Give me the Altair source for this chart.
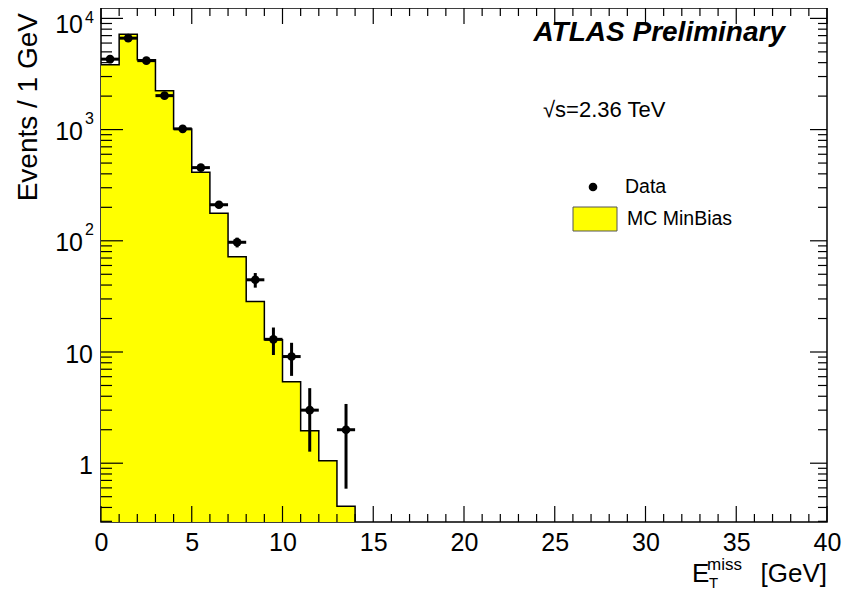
import altair as alt
import pandas as pd

# ---- data ----
bin_lo = list(range(0, 14))                     # 1 GeV bins 0..14
mc_vals = [3820, 7210, 4240, 2240, 1010, 414, 177, 72, 28.4, 12.9, 5.4, 1.96, 1.05, 0.41]

data_x = [0.5, 1.5, 2.5, 3.5, 4.5, 5.5, 6.5, 7.5, 8.5, 9.5, 10.5, 11.5, 13.5]
data_y = [4300, 6640, 4170, 2020, 1015, 455, 211, 97, 44.6, 13, 9.1, 3.0, 2.0]
data_err = [66, 81, 65, 45, 32, 21, 14.5, 9.8, 6.7, 3.6, 3.0, 1.73, 1.41]
data_xerr = [0.5] * 13

x_major = [0, 5, 10, 15, 20, 25, 30, 35, 40]
x_minor = [v for v in range(0, 41) if v % 5 != 0]
y_major = [1, 10, 100, 1000, 10000]
y_minor = [m * 10 ** k for k in range(-1, 4) for m in range(2, 10) if m * 10 ** k >= 0.3]
ylab_plain_v = [1, 10]
ylab_plain_t = ["1", "10"]
ylab_pow_v = [100, 1000]
ylab_pow_exp = ["2", "3"]
ylab_top_v = [10000]
ylab_top_exp = ["4"]

W, H = 726, 514
YMIN, YMAX = 0.296, 12400
FONT = "Liberation Sans"

xs = alt.Scale(domain=[0, 40], nice=False, zero=False)
ys = alt.Scale(type="log", domain=[YMIN, YMAX], nice=False)
x_axis = alt.Axis(values=x_major, labelFontSize=25, labelFont=FONT, labelColor="black",
                  ticks=False, tickSize=0, domain=False, grid=False, title=None,
                  labelPadding=8, labelFlush=False, labelOverlap=False)

# MC histogram (step area + outline)
mc_edges = bin_lo + [14]
mc_step = mc_vals + [mc_vals[-1]]
mc_df = pd.DataFrame({"x": mc_edges, "y": mc_step})
outline_df = pd.DataFrame({"x": mc_edges + [14], "y": mc_step + [YMIN]})

area = alt.Chart(mc_df).mark_area(interpolate="step-after", color="#ffff00", clip=True).encode(
    x=alt.X("x:Q", scale=xs, axis=x_axis),
    y=alt.Y("y:Q", scale=ys, axis=None),
    y2=alt.datum(YMIN),
)
outline = alt.Chart(outline_df).mark_line(interpolate="step-after", color="black",
                                          strokeWidth=1.5, clip=True).encode(
    x=alt.X("x:Q", scale=xs, axis=x_axis),
    y=alt.Y("y:Q", scale=ys, axis=None),
)

ddf = pd.DataFrame({"x": data_x, "y": data_y, "err": data_err, "xerr": data_xerr})
ddf["lo"] = ddf["y"] - ddf["err"]
ddf["hi"] = ddf["y"] + ddf["err"]
ddf["xl"] = ddf["x"] - ddf["xerr"]
ddf["xh"] = ddf["x"] + ddf["xerr"]

vbar = alt.Chart(ddf).mark_rule(color="black", strokeWidth=3).encode(
    x=alt.X("x:Q", scale=xs, axis=x_axis),
    y=alt.Y("lo:Q", scale=ys, axis=None), y2="hi:Q")
hbar = alt.Chart(ddf).mark_rule(color="black", strokeWidth=3).encode(
    x=alt.X("xl:Q", scale=xs, axis=x_axis), x2="xh:Q",
    y=alt.Y("y:Q", scale=ys, axis=None))
pts = alt.Chart(ddf).mark_point(filled=True, shape="circle", size=75, color="black", opacity=1).encode(
    x=alt.X("x:Q", scale=xs, axis=x_axis),
    y=alt.Y("y:Q", scale=ys, axis=None))

# ticks (inward, ROOT style)
def xticks(vals, length):
    df = pd.DataFrame({"v": vals})
    b = alt.Chart(df).mark_rule(color="black", strokeWidth=1.2).encode(
        x=alt.X("v:Q", scale=xs, axis=x_axis), y=alt.value(H - length), y2=alt.value(H))
    t = alt.Chart(df).mark_rule(color="black", strokeWidth=1.2).encode(
        x=alt.X("v:Q", scale=xs, axis=x_axis), y=alt.value(0), y2=alt.value(length))
    return [b, t]

def yticks(vals, left_len, right_len):
    df = pd.DataFrame({"v": vals})
    l = alt.Chart(df).mark_rule(color="black", strokeWidth=1.2).encode(
        y=alt.Y("v:Q", scale=ys, axis=None), x=alt.value(0), x2=alt.value(left_len))
    r = alt.Chart(df).mark_rule(color="black", strokeWidth=1.2).encode(
        y=alt.Y("v:Q", scale=ys, axis=None), x=alt.value(W - right_len), x2=alt.value(W))
    return [l, r]

tick_layers = xticks(x_major, 16) + xticks(x_minor, 8) + yticks(y_major, 22, 17) + yticks(y_minor, 11, 9)

# y tick labels
def pow_labels(vals, exps, base_dy, exp_dy):
    df = pd.DataFrame({"v": vals, "e": exps})
    base = alt.Chart(df).mark_text(
        font=FONT, fontSize=25, align="right", baseline="middle", dy=base_dy, color="black").encode(
        y=alt.Y("v:Q", scale=ys, axis=None), x=alt.value(-18), text=alt.value("10"))
    exp = alt.Chart(df).mark_text(
        font=FONT, fontSize=16, align="right", baseline="middle", dy=exp_dy, color="black").encode(
        y=alt.Y("v:Q", scale=ys, axis=None), x=alt.value(-7), text="e:N")
    return [base, exp]

yl_plain = alt.Chart(pd.DataFrame({"v": ylab_plain_v, "t": ylab_plain_t})).mark_text(
    font=FONT, fontSize=25, align="right", baseline="middle", dy=3, color="black").encode(
    y=alt.Y("v:Q", scale=ys, axis=None), x=alt.value(-8), text="t:N")
ylab_layers = ([yl_plain] + pow_labels(ylab_pow_v, ylab_pow_exp, 2, -11)
               + pow_labels(ylab_top_v, ylab_top_exp, 7, 0))

one = pd.DataFrame({"k": [0]})

def label(text, x, y, size, align="left", baseline="alphabetic", **kw):
    return alt.Chart(one).mark_text(font=FONT, fontSize=size, align=align,
                                    baseline=baseline, color="black", **kw).encode(
        x=alt.value(x), y=alt.value(y), text=alt.value(text))

ytitle = label("Events / 1 GeV", -64, 5, 28, align="right", angle=270)
xt_E = label("E", 591, 574, 26)
xt_T = label("T", 608, 580, 15)
xt_miss = label("miss", 606, 562, 17)
xt_gev = label("[GeV]", W, 574, 26, align="right")

atlas = label("ATLAS Preliminary", 684, 25, 28, align="right", baseline="middle",
              fontStyle="italic", fontWeight="bold")
sqrts = label("√s=2.36 TeV", 442, 102, 22, baseline="middle")

leg_pt = alt.Chart(one).mark_point(filled=True, shape="circle", size=75, color="black", opacity=1).encode(
    x=alt.value(492), y=alt.value(179))
leg_box = alt.Chart(one).mark_rect(fill="#ffff00", stroke="#555555", strokeWidth=1).encode(
    x=alt.value(472), x2=alt.value(516), y=alt.value(199), y2=alt.value(223))
leg_t1 = label("Data", 524, 179, 19.5, baseline="middle")
leg_t2 = label("MC MinBias", 526, 211, 19.5, baseline="middle")

chart = alt.layer(
    area, outline, *tick_layers, vbar, hbar, pts,
    *ylab_layers, ytitle, xt_E, xt_T, xt_miss, xt_gev,
    atlas, sqrts, leg_pt, leg_box, leg_t1, leg_t2,
).properties(
    width=W, height=H,
    autosize=alt.AutoSizeParams(type="none"),
    padding={"left": 93, "top": 0, "right": 17, "bottom": 71},
    background="white",
).configure_view(stroke="black", strokeWidth=1.5)

chart.save("out.html", embed_options={"renderer": "svg", "actions": False})
